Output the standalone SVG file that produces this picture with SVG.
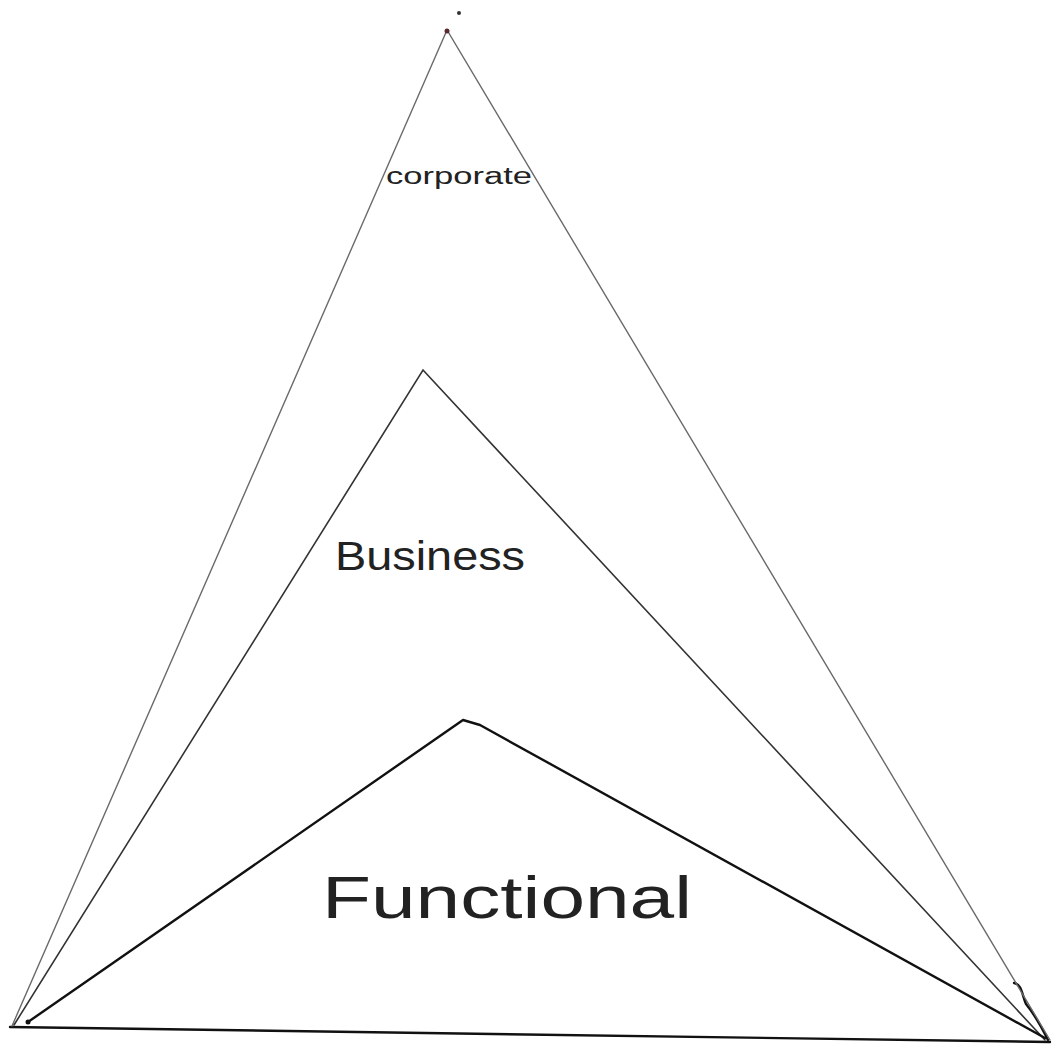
<svg xmlns="http://www.w3.org/2000/svg" width="1059" height="1048" viewBox="0 0 1059 1048">
<style>
.l1{fill:none;stroke:#6a6a6a;stroke-width:1.4;stroke-linecap:round}
.l2{fill:none;stroke:#333;stroke-width:1.6;stroke-linecap:round}
.l3{fill:none;stroke:#111;stroke-width:2.4;stroke-linecap:round;stroke-linejoin:round}
.t{font-family:"Liberation Sans",Arial,sans-serif;fill:#222}
</style>
<rect width="1059" height="1048" fill="#fff"/>
<g id="connectors">
<path class="l3" d="M10,1027 L1050,1042"/>
<path class="l3" d="M1014,983 C1022,984 1022,995 1026,1004 C1035,1015 1042,1028 1048,1040"/>
</g>
<g id="corporate">
<path class="l1" d="M12,1026 L447,30 L1050,1040"/>
<circle cx="447" cy="31" r="2.5" fill="#5a2a30"/>
<circle cx="459" cy="13" r="2" fill="#333"/>
<text class="t" x="386" y="184" font-size="23" fill="#444" textLength="146" lengthAdjust="spacingAndGlyphs">corporate</text>
</g>
<g id="business">
<path class="l2" d="M14,1025 L423,370 L1045,1040"/>
<text class="t" x="335" y="570" font-size="40" textLength="190" lengthAdjust="spacingAndGlyphs">Business</text>
</g>
<g id="functional">
<path class="l3" d="M28,1022 L463,720 L480,725 L1045,1038"/>
<circle cx="28" cy="1022" r="2.5" fill="#111"/>
<text class="t" x="322" y="918" font-size="60" font-weight="300" textLength="370" lengthAdjust="spacingAndGlyphs">Functional</text>
</g>
</svg>
